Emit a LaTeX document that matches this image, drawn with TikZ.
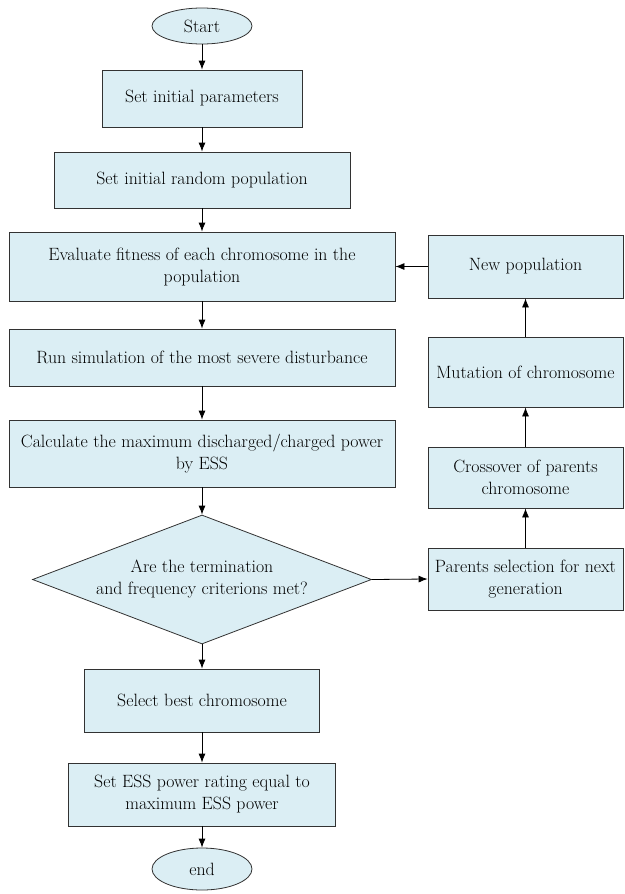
\documentclass[tikz,border=0pt]{standalone}
\usetikzlibrary{shapes.geometric,arrows.meta}
\definecolor{boxfill}{RGB}{219,238,244}
\definecolor{boxline}{RGB}{50,50,50}
\begin{document}
\begin{tikzpicture}[x=1pt,y=-1pt,
  every node/.style={font=\rmfamily\fontsize{17.8}{22}\selectfont, text=black, align=center, inner sep=0pt},
  procbox/.style={draw=boxline, fill=boxfill, line width=0.8pt, rectangle},
  termbox/.style={draw=boxline, fill=boxfill, line width=0.8pt, ellipse},
  decbox/.style={draw=boxline, fill=boxfill, line width=0.8pt, diamond, aspect=2.63},
  flow/.style={-{Latex[length=9pt,width=7pt]}, line width=0.8pt, black}]
\useasboundingbox (0,0) rectangle (624,894);

\node[termbox, minimum width=100pt, minimum height=36pt] (start) at (202,26) {Start};
\node[procbox, minimum width=200pt, minimum height=57pt] (p1) at (202,98.5) {Set initial parameters};
\node[procbox, minimum width=296pt, minimum height=56pt] (p2) at (202,180) {Set initial random population};
\node[procbox, minimum width=386pt, minimum height=69pt] (p3) at (202,266.5) {Evaluate fitness of each chromosome in the\\population};
\node[procbox, minimum width=386pt, minimum height=57pt] (p4) at (202,357.5) {Run simulation of the most severe disturbance};
\node[procbox, minimum width=386pt, minimum height=67pt] (p5) at (202,453.5) {Calculate the maximum discharged/charged power\\by ESS};
\node[decbox, minimum width=339pt, minimum height=129pt] (dec) at (202,579.5) {Are the termination\\and frequency criterions met?};
\node[procbox, minimum width=235pt, minimum height=63pt] (p6) at (202,700.5) {Select best chromosome};
\node[procbox, minimum width=267pt, minimum height=63pt] (p7) at (202,794.5) {Set ESS power rating equal to\\maximum ESS power};
\node[termbox, minimum width=100pt, minimum height=42pt] (stop) at (202,869) {end};

\node[procbox, minimum width=195pt, minimum height=62pt] (r1) at (525.5,579) {Parents selection for next\\generation};
\node[procbox, minimum width=195pt, minimum height=61pt] (r2) at (525.5,477.5) {Crossover of parents\\chromosome};
\node[procbox, minimum width=195pt, minimum height=70pt] (r3) at (525.5,372) {Mutation of chromosome};
\node[procbox, minimum width=195pt, minimum height=63pt] (r4) at (525.5,266.5) {New population};

\draw[flow] (start) -- (p1);
\draw[flow] (p1) -- (p2);
\draw[flow] (p2) -- (p3);
\draw[flow] (p3) -- (p4);
\draw[flow] (p4) -- (p5);
\draw[flow] (p5) -- (dec);
\draw[flow] (dec) -- (p6);
\draw[flow] (p6) -- (p7);
\draw[flow] (p7) -- (stop);
\draw[flow] (dec.east) -- (r1.west);
\draw[flow] (r1) -- (r2);
\draw[flow] (r2) -- (r3);
\draw[flow] (r3) -- (r4);
\draw[flow] (r4.west) -- (p3.east);
\end{tikzpicture}
\end{document}
